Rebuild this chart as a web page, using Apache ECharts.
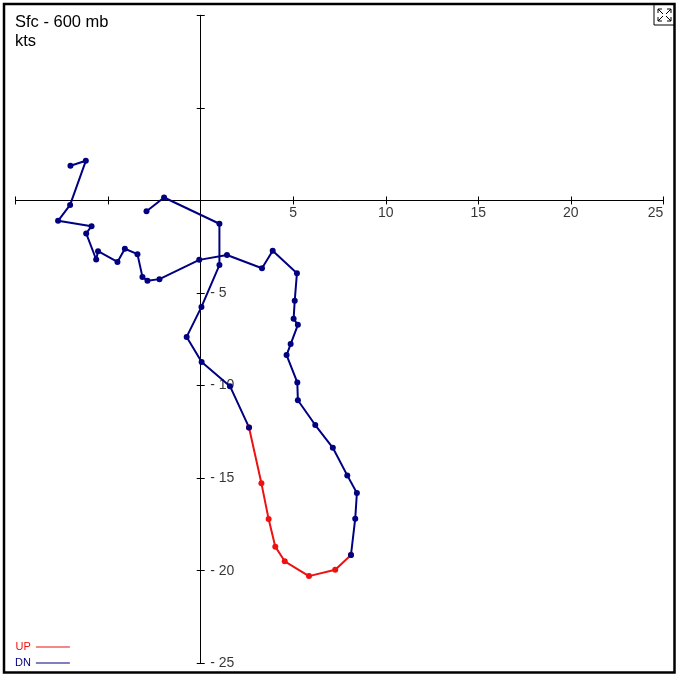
<!DOCTYPE html>
<html>
<head>
<meta charset="utf-8">
<script src="https://cdn.jsdelivr.net/npm/echarts@6/dist/echarts.min.js"></script>
<style>
html,body{margin:0;padding:0;background:#fff;}
#c{width:679px;height:678px;}
</style>
</head>
<body>
<div id="c"></div>
<script>
// Hodograph points [u, v] in kts
const dnFirst = [
  [-2.93, -0.58], [-1.98, 0.16], [1.01, -1.26], [1.01, -3.49], [0.04, -5.75],
  [-0.76, -7.37], [0.05, -8.73], [1.58, -10.03], [2.61, -12.26]
];
const upPath = [
  [2.61, -12.26], [3.28, -15.28], [3.67, -17.21], [4.03, -18.70], [4.54, -19.49],
  [5.85, -20.29], [7.27, -19.95], [8.12, -19.15]
];
const dnSecond = [
  [8.12, -19.15], [8.35, -17.19], [8.44, -15.80], [7.92, -14.85], [7.14, -13.36],
  [6.19, -12.13], [5.25, -10.79], [5.22, -9.83], [4.64, -8.35], [4.86, -7.76],
  [5.25, -6.72], [5.02, -6.39], [5.08, -5.42], [5.20, -3.93], [3.89, -2.72],
  [3.31, -3.66], [1.42, -2.95], [-0.08, -3.21], [-2.23, -4.25], [-2.88, -4.34],
  [-3.15, -4.13], [-3.42, -2.90], [-4.10, -2.61], [-4.50, -3.32], [-5.55, -2.74],
  [-5.65, -3.19], [-6.19, -1.78], [-5.90, -1.39], [-7.71, -1.10], [-7.06, -0.24],
  [-6.21, 2.14], [-7.04, 1.87]
];
const xRange = [-10, 25];
const yRange = [-25, 10];
const tickStep = 5;
const xTickLabels = [5, 10, 15, 20, 25];
const yTickLabels = [-5, -10, -15, -20, -25];
const titleLines = ['Sfc - 600 mb', 'kts'];
const legendNames = ['UP', 'DN'];

const FONT = 'Arial, "Liberation Sans", sans-serif';
const NAVY = '#000080';
const RED = '#ee1111';

const chart = echarts.init(document.getElementById('c'), null, {renderer: 'canvas'});

const gridBox = {left: 15.7, right: 15.7, top: 15.3, bottom: 14.7, containLabel: false};

function axisCfg(kind, gridIndex, pos, tickInside) {
  const r = kind === 'x' ? xRange : yRange;
  return {
    type: 'value', gridIndex: gridIndex, min: r[0], max: r[1], interval: tickStep, position: pos,
    axisLine: {show: true, onZero: true, lineStyle: {color: '#000', width: 1}},
    axisTick: {show: true, inside: !!tickInside, length: 4, lineStyle: {color: '#000', width: 1}},
    axisLabel: {show: false},
    splitLine: {show: false}
  };
}

function lineSeries(name, data, color) {
  return {
    name: name, type: 'line', data: data, xAxisIndex: 0, yAxisIndex: 0,
    symbol: 'circle', symbolSize: 6, showSymbol: true,
    lineStyle: {color: color, width: 2},
    itemStyle: {color: color},
    emphasis: {disabled: true},
    z: 3
  };
}

const labelFont = {color: '#000', fontSize: 14, fontFamily: FONT, lineHeight: 14};

const xLabelData = xTickLabels.map((v, i) => ({
  value: [v, 0],
  label: i === xTickLabels.length - 1 ? {align: 'right'} : {}
}));
const yLabelData = yTickLabels.map(v => ({value: [0, v]}));

chart.setOption({
  animation: false,
  backgroundColor: '#fff',
  title: {
    text: titleLines.join('\n'),
    left: 15, top: 13, padding: 0,
    textStyle: {fontSize: 16.5, fontWeight: 'normal', color: '#000', fontFamily: FONT, lineHeight: 19}
  },
  legend: {
    orient: 'vertical', left: 15, top: 641, padding: 0, align: 'right',
    icon: 'rect', itemWidth: 34, itemHeight: 1, itemGap: 4, selectedMode: false,
    textStyle: {fontSize: 11, fontFamily: FONT, lineHeight: 12},
    data: [
      {name: legendNames[0], textStyle: {color: RED}},
      {name: legendNames[1], textStyle: {color: NAVY}}
    ]
  },
  grid: [Object.assign({}, gridBox), Object.assign({}, gridBox)],
  xAxis: [axisCfg('x', 0, 'bottom', false), axisCfg('x', 1, 'top', false)],
  yAxis: [axisCfg('y', 0, 'left', false), axisCfg('y', 1, 'left', true)],
  series: [
    {
      name: 'xTicks', type: 'scatter', data: xLabelData, xAxisIndex: 0, yAxisIndex: 0,
      symbol: 'circle', symbolSize: 1, silent: true, z: 1,
      itemStyle: {color: 'rgba(0,0,0,0)'},
      label: Object.assign({show: true, position: 'bottom', distance: 5,
        formatter: p => String(p.value[0])}, labelFont)
    },
    {
      name: 'yTicks', type: 'scatter', data: yLabelData, xAxisIndex: 0, yAxisIndex: 0,
      symbol: 'circle', symbolSize: 1, silent: true, z: 1,
      itemStyle: {color: 'rgba(0,0,0,0)'},
      label: Object.assign({show: true, position: 'right', distance: 9,
        formatter: p => '- ' + (-p.value[1])}, labelFont)
    },
    lineSeries(legendNames[0], upPath, RED),
    lineSeries(legendNames[1], dnFirst, NAVY),
    lineSeries(legendNames[1], dnSecond, NAVY)
  ],
  graphic: [
    {type: 'rect', shape: {x: 4, y: 4, width: 670.5, height: 668.5},
     style: {fill: 'none', stroke: '#000', lineWidth: 2.5}, z: 100, silent: true},
    {type: 'group', z: 101, silent: true, children: [
      {type: 'rect', shape: {x: 654, y: 4, width: 20.5, height: 21},
       style: {fill: '#fff', stroke: '#000', lineWidth: 1}},
      {type: 'polyline', shape: {points: [[658, 9], [663, 14]]}, style: {stroke: '#000', lineWidth: 1, fill: 'none'}},
      {type: 'polyline', shape: {points: [[671, 9], [666, 14]]}, style: {stroke: '#000', lineWidth: 1, fill: 'none'}},
      {type: 'polyline', shape: {points: [[658, 21], [663, 16]]}, style: {stroke: '#000', lineWidth: 1, fill: 'none'}},
      {type: 'polyline', shape: {points: [[671, 21], [666, 16]]}, style: {stroke: '#000', lineWidth: 1, fill: 'none'}},
      {type: 'polyline', shape: {points: [[658, 13], [658, 9], [662, 9]]}, style: {stroke: '#000', lineWidth: 1, fill: 'none'}},
      {type: 'polyline', shape: {points: [[667, 9], [671, 9], [671, 13]]}, style: {stroke: '#000', lineWidth: 1, fill: 'none'}},
      {type: 'polyline', shape: {points: [[658, 17], [658, 21], [662, 21]]}, style: {stroke: '#000', lineWidth: 1, fill: 'none'}},
      {type: 'polyline', shape: {points: [[667, 21], [671, 21], [671, 17]]}, style: {stroke: '#000', lineWidth: 1, fill: 'none'}}
    ]}
  ]
});
</script>
</body>
</html>
